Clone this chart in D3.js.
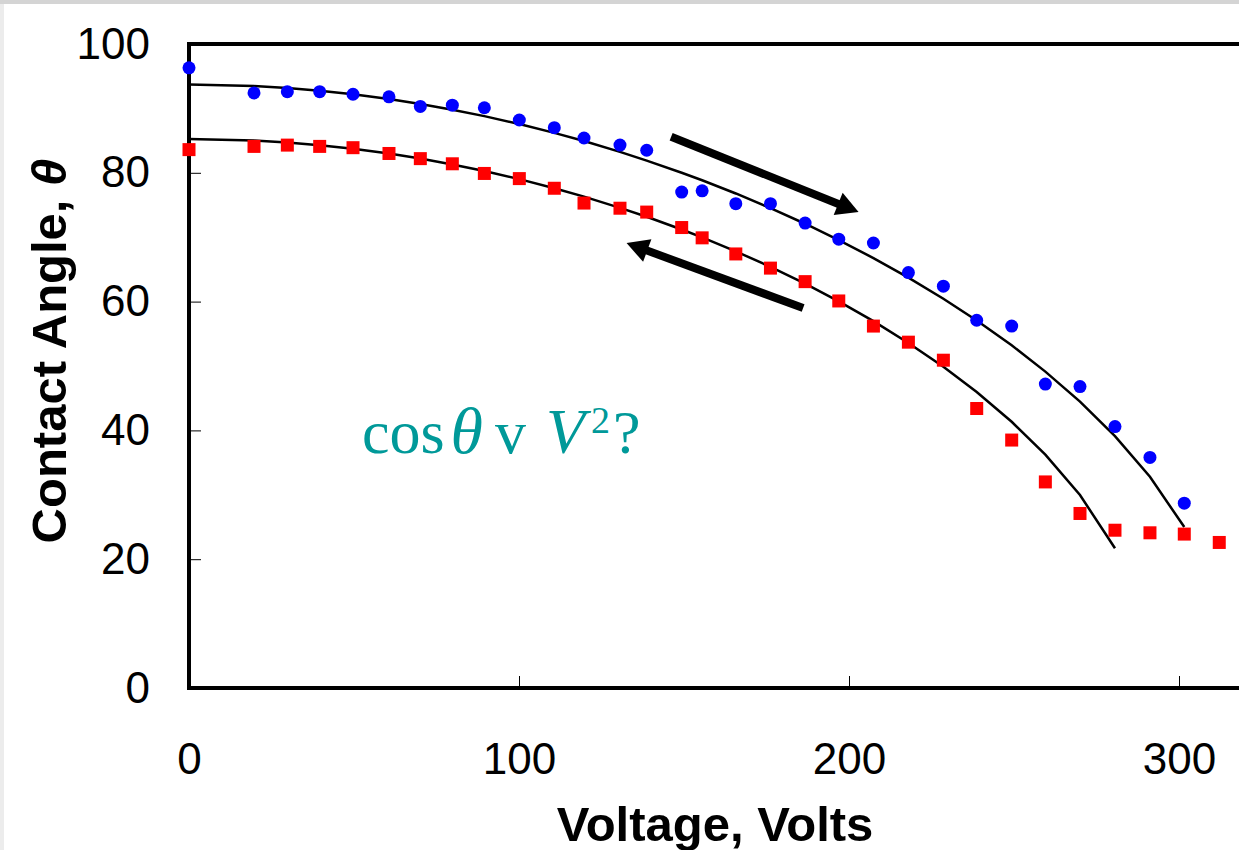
<!DOCTYPE html>
<html>
<head>
<meta charset="utf-8">
<script src="https://cdn.jsdelivr.net/npm/d3@7"></script>
<style>
  html, body { margin: 0; padding: 0; background: #ffffff; overflow: hidden; }
  svg { display: block; }
</style>
</head>
<body>
<svg id="chart" width="1239" height="850"></svg>
<script>
// ---- data ----
const voltage = [0, 19.7, 29.8, 39.6, 49.7, 60.6, 70.1, 79.8, 89.5, 100.1, 110.7, 119.7, 130.6, 138.7,
  149.3, 155.5, 165.7, 176.2, 186.7, 196.9, 207.4, 218.0, 228.6, 238.7, 249.3, 259.5, 270.0, 280.6,
  291.2, 301.6, 312.2];
const angleUp = [96.3, 92.4, 92.6, 92.6, 92.2, 91.8, 90.3, 90.5, 90.1, 88.2, 87.0, 85.4, 84.3, 83.5,
  77.0, 77.2, 75.2, 75.2, 72.2, 69.7, 69.1, 64.5, 62.4, 57.1, 56.2, 47.2, 46.8, 40.6, 35.8, 28.7];
const angleDown = [83.6, 84.1, 84.3, 84.1, 83.9, 83.0, 82.2, 81.4, 79.9, 79.1, 77.6, 75.3, 74.5, 73.9,
  71.5, 69.9, 67.4, 65.2, 63.1, 60.1, 56.2, 53.7, 50.9, 43.4, 38.5, 32.0, 27.1, 24.5, 24.1, 23.9, 22.6];
const fitUp = [93.70, 93.46, 93.15, 92.74, 92.19, 91.45, 90.69, 89.80, 88.80, 87.57, 86.20, 84.93, 83.25,
  81.90, 80.01, 78.84, 76.79, 74.52, 72.09, 69.55, 66.76, 63.72, 60.44, 57.07, 53.21, 49.13, 44.47,
  39.11, 32.80, 24.99];
const fitDown = [85.25, 85.01, 84.70, 84.28, 83.72, 82.98, 82.21, 81.30, 80.28, 79.02, 77.61, 76.30,
  74.56, 73.17, 71.19, 69.96, 67.80, 65.39, 62.78, 60.03, 56.97, 53.58, 49.87, 45.96, 41.34, 36.23,
  29.96, 21.71];
const xTicks = [0, 100, 200, 300];
const yTicks = [0, 20, 40, 60, 80, 100];
const xTitle = "Voltage, Volts";
const yTitle = "Contact Angle, ";
const yTitleSymbol = "θ";
// arrows: [startV, startAngle, tipV, tipAngle]
const arrowUp = [146.1, 85.6, 202.9, 73.9];
const arrowDown = [186.1, 59.0, 132.6, 69.1];
const notePos = [52.4, 36.5];

// ---- layout ----
const svg = d3.select("#chart");
const x = d3.scaleLinear().domain([0, 320]).range([189, 1245]);
const y = d3.scaleLinear().domain([0, 100]).range([688, 44]);

// window frame (light grey strips)
svg.append("rect").attr("x", 0).attr("y", 0).attr("width", 1239).attr("height", 850).attr("fill", "#ffffff");
svg.append("rect").attr("x", 0).attr("y", 0).attr("width", 4).attr("height", 850).attr("fill", "#ececec");
svg.append("rect").attr("x", 0).attr("y", 0).attr("width", 1239).attr("height", 4).attr("fill", "#d4d4d4");

// axes (ticks + labels)
const font = "'Liberation Sans', Arial, Helvetica, sans-serif";
const yAxis = svg.append("g").attr("transform", `translate(${x(0)},0)`)
  .call(d3.axisLeft(y).tickValues(yTicks).tickSize(-12).tickPadding(39).tickFormat(d3.format("d")));
const xAxis = svg.append("g").attr("transform", `translate(0,${y(0)})`)
  .call(d3.axisBottom(x).tickValues(xTicks).tickSize(-12).tickPadding(55).tickFormat(d3.format("d")));
[xAxis, yAxis].forEach(g => {
  g.select(".domain").remove();
  g.selectAll(".tick line").attr("stroke", "#000").attr("stroke-width", 1);
  g.selectAll(".tick text").attr("fill", "#000").style("font-family", font).style("font-size", "44px");
});

// frame lines (left, bottom, top)
const frame = svg.append("g").attr("stroke", "#000").attr("stroke-width", 4).attr("fill", "none");
frame.append("line").attr("x1", x(0)).attr("x2", x(0)).attr("y1", y(100) - 2).attr("y2", y(0) + 2);
frame.append("line").attr("x1", x(0)).attr("x2", x(320)).attr("y1", y(0)).attr("y2", y(0));
frame.append("line").attr("x1", x(0)).attr("x2", x(320)).attr("y1", y(100)).attr("y2", y(100));

// fit curves
const line = d3.line().x(d => x(d[0])).y(d => y(d[1]));
svg.append("path").datum(fitUp.map((v, i) => [voltage[i], v]))
  .attr("d", line).attr("fill", "none").attr("stroke", "#000").attr("stroke-width", 2.5);
svg.append("path").datum(fitDown.map((v, i) => [voltage[i], v]))
  .attr("d", line).attr("fill", "none").attr("stroke", "#000").attr("stroke-width", 2.5);

// markers
svg.append("g").selectAll("circle").data(angleUp.map((v, i) => [voltage[i], v])).join("circle")
  .attr("cx", d => x(d[0])).attr("cy", d => y(d[1])).attr("r", 6.5).attr("fill", "#0000ff");
const sq = 13;
svg.append("g").selectAll("rect").data(angleDown.map((v, i) => [voltage[i], v])).join("rect")
  .attr("x", d => x(d[0]) - sq / 2).attr("y", d => y(d[1]) - sq / 2)
  .attr("width", sq).attr("height", sq).attr("fill", "#ff0000");

// arrows
function drawArrow(a) {
  const x1 = x(a[0]), y1 = y(a[1]), x2 = x(a[2]), y2 = y(a[3]);
  const dx = x2 - x1, dy = y2 - y1, L = Math.hypot(dx, dy);
  const ux = dx / L, uy = dy / L, px = -uy, py = ux;
  const hl = 22, hw = 12;
  const bx = x2 - ux * hl, by = y2 - uy * hl;
  svg.append("line").attr("x1", x1).attr("y1", y1).attr("x2", bx + ux).attr("y2", by + uy)
    .attr("stroke", "#000").attr("stroke-width", 8);
  svg.append("path")
    .attr("d", `M${x2},${y2}L${bx + px * hw},${by + py * hw}L${bx - px * hw},${by - py * hw}Z`)
    .attr("fill", "#000");
}
drawArrow(arrowUp);
drawArrow(arrowDown);

// annotation
const note = svg.append("text").attr("x", x(notePos[0])).attr("y", y(notePos[1]))
  .attr("fill", "#009999").style("font-family", "'Liberation Serif', 'Times New Roman', serif")
  .style("font-size", "62px");
note.append("tspan").text("cos");
note.append("tspan").attr("dx", 6).style("font-style", "italic").style("font-size", "66px").text("θ");
note.append("tspan").attr("dx", 12).text("v");
note.append("tspan").attr("dx", 20).style("font-style", "italic").style("font-size", "64px").text("V");
note.append("tspan").attr("dx", 6).attr("dy", -20).style("font-size", "38px").text("2");
note.append("tspan").attr("dx", 3).attr("dy", 20).text("?");

// axis titles
svg.append("text").attr("x", 715).attr("y", 841).attr("text-anchor", "middle")
  .style("font-family", font).style("font-size", "49px").style("font-weight", "bold").text(xTitle);
const yt = svg.append("text").attr("transform", `translate(66,351) rotate(-90)`).attr("text-anchor", "middle")
  .style("font-family", font).style("font-size", "49px").style("font-weight", "bold");
yt.append("tspan").text(yTitle);
yt.append("tspan").style("font-style", "italic").text(yTitleSymbol);
</script>
</body>
</html>
